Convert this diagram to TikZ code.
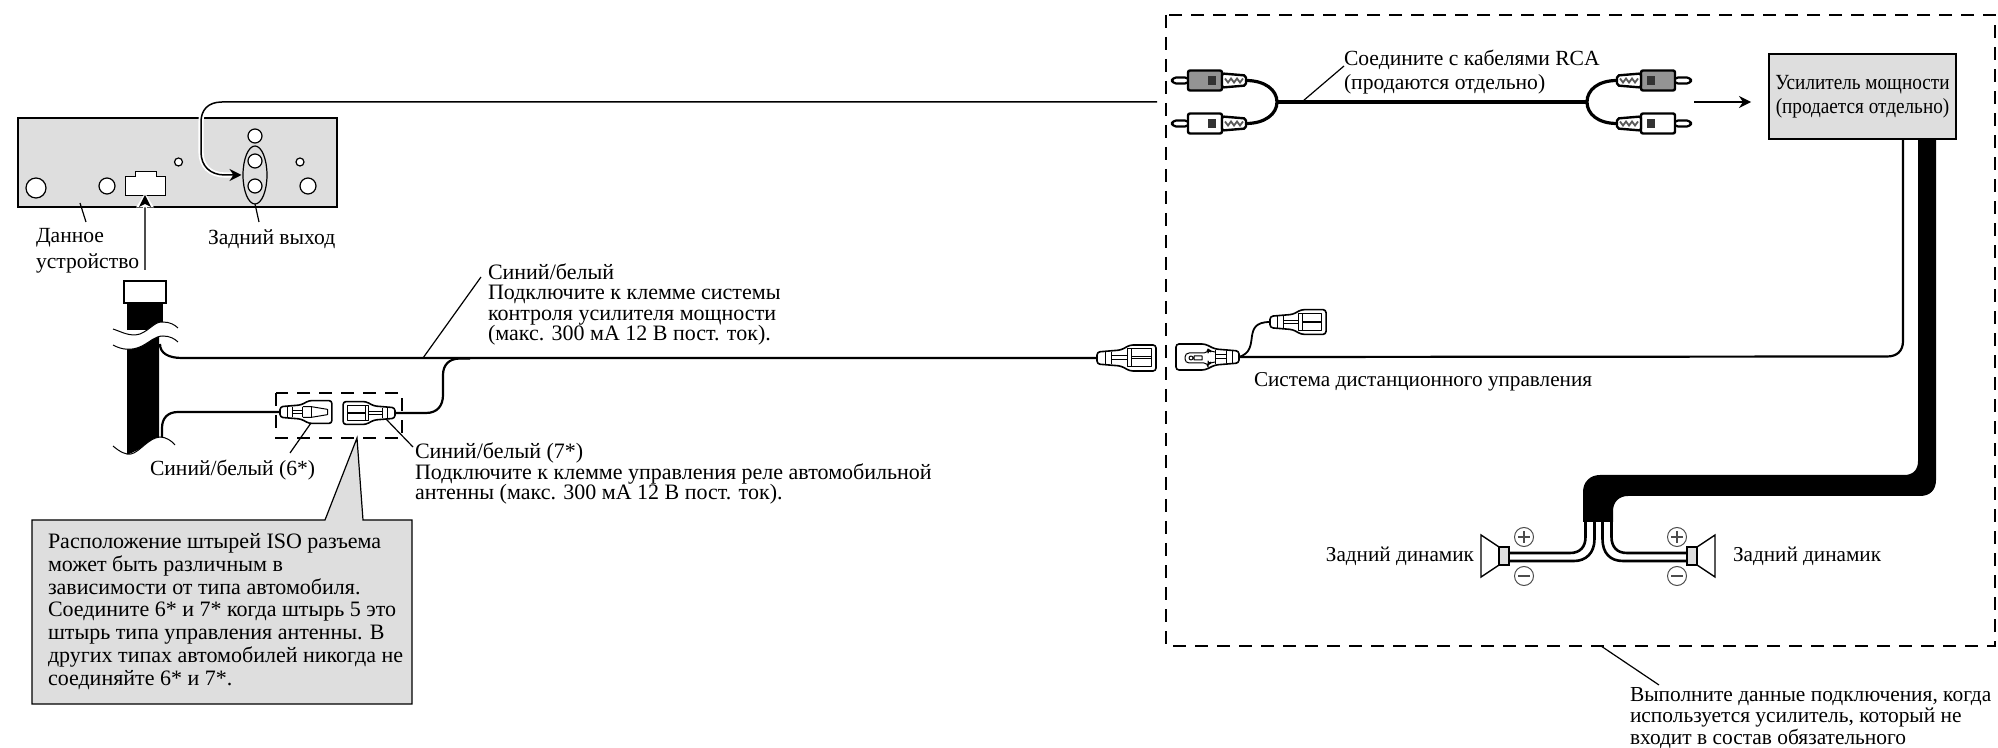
\documentclass[tikz,border=0pt]{standalone}
\usepackage{fontspec}
\setmainfont{Liberation Serif}
\newfontfamily\ampfont[FakeStretch=0.89]{Liberation Serif}
\usetikzlibrary{arrows.meta}
\definecolor{panel}{gray}{0.87}
\tikzset{
  x=0.5pt,y=-0.5pt,
  txt/.style={inner sep=0pt,outer sep=0pt,align=left,anchor=west,font=\fontsize{10.8}{10.25}\selectfont},
  thinline/.style={line width=0.6pt,black},
  wire/.style={line width=1.1pt,black},
  speakerwire/.style={line width=1.3pt,black},
  fatwire/.style={line width=2pt,black},
  connline/.style={line width=0.8pt,black,line join=round},
  halo/.style={white,line width=2.6pt},
  sym/.style={line width=0.5pt,black!70},
  dashframe/.style={line width=.65pt,dash pattern=on 6.5pt off 4.5pt},
  pics/femaleconn/.style={code={
    \draw[connline,fill=white,rounded corners=1.5pt] (0,-6)--(0,6)--(12,7)--(24,8)--(33,13)--(59,13)--(59,-13)--(33,-13)--(24,-8)--(12,-7)--cycle;
    \draw[connline,line width=.5pt] (8,-6)--(8,6) (14,-6)--(14,6) (14,-2)--(30,-2) (14,2)--(30,2) (30,-6)--(30,6);
    \draw[connline,line width=.5pt,fill=white] (30,-9)--(54,-9)--(54,9)--(30,9)--cycle;
    \draw[connline,line width=.5pt] (34,-1)--(54,-1) (34,1)--(54,1) (34,-9)--(34,9);
  }},
  pics/maleconn/.style={code={
    \draw[connline,fill=white,rounded corners=1.5pt] (0,-6)--(0,6)--(12,7)--(24,8)--(33,13)--(59,13)--(59,-13)--(33,-13)--(24,-8)--(12,-7)--cycle;
    \draw[connline,line width=.5pt] (8,-6)--(8,6) (14,-6)--(14,6) (14,-2)--(26,-2) (14,2)--(26,2) (26,-6)--(26,6) (36,-6)--(36,6);
    \draw[connline,line width=.5pt] (26,-6)--(36,-6)--(54,-3)--(54,3)--(36,6)--(26,6);
  }},
  pics/bladeconn/.style={code={
    \draw[connline,fill=white,rounded corners=1.5pt] (0,-6)--(0,6)--(12,7)--(24,8)--(34,13)--(63,13)--(63,-13)--(34,-13)--(24,-8)--(12,-7)--cycle;
    \draw[connline,line width=.5pt] (7,-6)--(7,6) (13,-6)--(13,6) (13,-2)--(24,-2) (13,2)--(24,2) (24,-7)--(24,7);
    \draw[connline,line width=.5pt,rounded corners=2pt] (24,-5)--(28,-5)--(31,-8)--(31,-4)--(54,-4)--(54,6)--(31,6)--(31,8)--(28,5)--(24,5);
    \draw[connline,line width=.5pt] (37,-1) rectangle (45,3) (48,1) circle (2);
  }},
  pics/rcaplug/.style={code={
    \draw[connline,line width=1.1pt,fill=white,rounded corners=2pt] (0,-3)--(17,-3)--(17,3)--(0,3)--cycle;
    \fill[#1,draw=black,line width=1.2pt,rounded corners=1pt] (16,-10)--(50,-10)--(50,10)--(16,10)--cycle;
    \fill[black!80] (36,-4.5) rectangle (44,4.5);
    \draw[line width=1.2pt,fill=white,rounded corners=1pt] (50,-7)--(74,-5)--(74,5)--(50,7)--cycle;
    \draw[line width=.9pt,black!65] (53,-2)--(56,2)--(59,-2)--(62,2)--(65,-2)--(68,2)--(71,-2);
  }}
}
\begin{document}
\begin{tikzpicture}
\useasboundingbox (0,0) rectangle (1998,748);

% ---- head unit
\node[draw=black,line width=1.4pt,fill=panel,inner sep=0pt,minimum width=159.5pt,minimum height=44.5pt] (hu) at (177.5,162.5) {};
\foreach \n/\p/\q/\r in {a/255/136/7,b/255/161/7,c/255/186/7,d/178.5/162/4,e/300/162/4,f/36/188/10,g/107/186/8,h/308/186/8}{
  \draw[line width=.6pt,fill=white] (\p,\q) circle (\r);
  \coordinate (hole\n) at (\p,\q);
}
\draw[line width=.6pt] (255,175) ellipse (12 and 29);
\draw[line width=.5pt,fill=white] (125,177)--(135,177)--(135,172)--(156,172)--(156,177)--(165,177)--(165,196)--(125,196)--cycle;

% ---- labels on the left
\node[txt,font=\fontsize{10.8}{13}\selectfont] (lhu) at (36,251) {Данное\\устройство};
\node[txt] (lrear) at (208,239.5) {Задний выход};
\coordinate (huleadA) at (80,203); \coordinate (huleadB) at (86,222);
\draw[thinline] (huleadA)--(huleadB);
\coordinate (reA) at (255,204); \coordinate (reB) at (259,222);
\draw[thinline] (reA)--(reB);

% ---- dashed box
\coordinate (dTL) at (1166,15); \coordinate (dBR) at (1995,646);
\draw[dashframe] (dTL) rectangle (dBR);

% ---- long arrow into rear output
\coordinate (longA) at (1157,102);
\coordinate (longB) at (241.5,175);
\draw[halo] (222,102) .. controls (208,102) and (201,110) .. (201,122) -- (201,152) .. controls (201,166) and (210,175) .. (225,175) -- (232,175);
\draw[thinline,line width=.75pt,-{Stealth[length=6pt,width=6pt]}] (longA) -- (222,102) .. controls (208,102) and (201,110) .. (201,122) -- (201,152) .. controls (201,166) and (210,175) .. (225,175) -- (longB);

% ---- arrow up to connector
\coordinate (upA) at (145,270); \coordinate (upB) at (145,195);
\draw[white,line width=2.4pt] (145,208)--(145,198);
\draw[thinline,black!70,line width=.8pt] (upA)--(145,205);
\fill[white] (136,207.5)--(145,193)--(154,207.5)--cycle;
\fill[black] (139,207)--(145,195)--(151,207)--(145,204)--cycle;

% ---- harness tube
\fill[black] (127,303) rectangle (163,330);
\fill[black] (127,340) -- (159,334) -- (159,440) -- (127,455) -- cycle;
\fill[white] (113,329) .. controls (122,332) and (130,337) .. (140,334) .. controls (150,330) and (155,321) .. (163,322) .. controls (170,322) and (175,325) .. (178,328) -- (178,342) .. controls (175,339) and (170,336) .. (163,336) .. controls (155,336) and (150,342) .. (142,346) .. controls (132,351) and (122,350) .. (113,345) -- cycle;
\draw[thinline,line width=.5pt] (113,329) .. controls (122,332) and (130,337) .. (140,334) .. controls (150,330) and (155,321) .. (163,322) .. controls (170,322) and (175,325) .. (178,328);
\draw[thinline,line width=.5pt] (113,345) .. controls (122,350) and (132,351) .. (142,346) .. controls (150,342) and (155,336) .. (163,336) .. controls (170,336) and (175,339) .. (178,342);
\fill[white] (113,446) .. controls (120,452) and (126,455) .. (131,454) .. controls (140,452) and (148,438) .. (160,437) .. controls (166,437) and (172,441) .. (175,445) -- (175,470) -- (113,470) -- cycle;
\draw[thinline,line width=.5pt] (113,446) .. controls (120,452) and (126,455) .. (131,454) .. controls (140,452) and (148,438) .. (160,437) .. controls (166,437) and (172,441) .. (175,445);
\node[draw=black,line width=.8pt,fill=white,inner sep=0pt,minimum width=21pt,minimum height=11pt] (plughead) at (145,292) {};

% ---- harness wires
\coordinate (wA) at (160,344);
\coordinate (connLm) at (1097,358);
\draw[wire] (wA) .. controls (160,353) and (168,358) .. (182,358) -- (connLm);
\coordinate (wB) at (162,437);
\coordinate (m6) at (280,412);
\draw[wire] (wB) -- (162,428) .. controls (162,418) and (168,412) .. (178,412) -- (m6);
\coordinate (f7) at (395,413);
\coordinate (wC) at (470,358.5);
\draw[wire] (f7) -- (426,413) .. controls (437,413) and (443,406) .. (443,395) -- (443,375) .. controls (443,365) and (449,358.5) .. (460,358.5) -- (wC);

% ---- ISO connectors
\pic[scale=.88] at (m6) {maleconn};
\pic[scale=.88,xscale=-1] at (f7) {femaleconn};
\coordinate (isoTL) at (276,393); \coordinate (isoBR) at (402,438);
\draw[dashframe] (isoTL) rectangle (isoBR);

% ---- callout
\coordinate (callApex) at (357,438);
\draw[line width=.6pt,fill=panel] (32,520) -- (325,520) -- (callApex) -- (363,520) -- (412,520) -- (412,704) -- (32,704) -- cycle;
\node[txt,font=\fontsize{11}{11.35}\selectfont] (calltext) at (48,611.5) {Расположение штырей ISO разъема\\может быть различным в\\зависимости от типа автомобиля.\\Соедините 6* и 7* когда штырь 5 это\\штырь типа управления антенны. В\\других типах автомобилей никогда не\\соединяйте 6* и 7*.};

% ---- middle labels
\node[txt,font=\fontsize{11}{10.25}\selectfont] (lbw) at (488,304.5) {Синий/белый\\Подключите к клемме системы\\контроля усилителя мощности\\(макс. 300 мА 12 В пост. ток).};
\coordinate (bwA) at (423,358); \coordinate (bwB) at (481,277);
\draw[thinline] (bwA)--(bwB);
\node[txt] (l6) at (150,470.5) {Синий/белый (6*)};
\coordinate (l6A) at (311,423); \coordinate (l6B) at (290,453);
\draw[thinline] (l6A)--(l6B);
\node[txt,font=\fontsize{11}{10.25}\selectfont] (l7) at (415,473.5) {Синий/белый (7*)\\Подключите к клемме управления реле автомобильной\\антенны (макс. 300 мА 12 В пост. ток).};
\coordinate (l7A) at (386,419); \coordinate (l7B) at (413,447);
\draw[thinline] (l7A)--(l7B);

% ---- remote connection
\pic at (connLm) {femaleconn};
\coordinate (conR) at (1239,357);
\coordinate (conU) at (1270,322);
\draw[wire] (1903,139) -- (1903,341) .. controls (1903,351) and (1897,356.5) .. (1887,356.5) -- (conR);
\draw[wire,line width=.9pt] (conR) .. controls (1262,350) and (1240,322) .. (conU);
\pic[xscale=-1] at (conR) {bladeconn};
\pic[scale=.95] at (conU) {femaleconn};
\node[txt,font=\fontsize{10.6}{10.25}\selectfont] (lrem) at (1254,381.5) {Система дистанционного управления};

% ---- RCA
\coordinate (rcaJL) at (1277,102); \coordinate (rcaJR) at (1587,102);
\draw[fatwire] (rcaJL)--(rcaJR);
\coordinate (pUL) at (1246,80.5); \coordinate (pLL) at (1246,123.5);
\coordinate (pUR) at (1617,80.5); \coordinate (pLR) at (1617,123.5);
\draw[fatwire,line width=1.6pt] (pUL) .. controls (1265,80.5) and (1277,90) .. (rcaJL) .. controls (1277,114) and (1265,123.5) .. (pLL);
\draw[fatwire,line width=1.6pt] (pUR) .. controls (1598,80.5) and (1587,90) .. (rcaJR) .. controls (1587,114) and (1598,123.5) .. (pLR);
\pic at (1172,80.5) {rcaplug=black!42};
\pic at (1172,123.5) {rcaplug=white};
\pic[xscale=-1] at (1691,80.5) {rcaplug=black!42};
\pic[xscale=-1] at (1691,123.5) {rcaplug=white};
\node[txt,font=\fontsize{10.8}{12}\selectfont] (lrca) at (1344,72.5) {Соедините с кабелями RCA\\(продаются отдельно)};
\coordinate (rcaLA) at (1303,101); \coordinate (rcaLB) at (1344,66);
\draw[thinline] (rcaLA)--(rcaLB);

% ---- amplifier
\node[draw=black,line width=1.2pt,fill=panel,inner sep=0pt,minimum width=93.5pt,minimum height=42.5pt,align=center,font=\ampfont\fontsize{10.8}{12.2}\selectfont] (amp) at (1862.5,96.5) {Усилитель мощности\\(продается отдельно)};
\coordinate (ampIn) at (1694,102); \coordinate (ampInB) at (1751,102);
\draw[thinline,line width=.7pt,-{Stealth[length=6pt,width=6pt]}] (ampIn)--(ampInB);

% ---- fat speaker cable
\fill[black] (1918,139)--(1936,139)--(1936,480) .. controls (1936,490) and (1930,496) .. (1920,496) -- (1628,496) .. controls (1619,496) and (1613,502) .. (1613,511) -- (1613,522) -- (1583,522) -- (1583,492) .. controls (1583,482) and (1590,475) .. (1600,475) -- (1904,475) .. controls (1913,475) and (1918,470) .. (1918,461) -- cycle;

% ---- speaker wires
\coordinate (sL1) at (1585.5,520); \coordinate (sL2) at (1594.5,520);
\coordinate (sR1) at (1602.5,520); \coordinate (sR2) at (1611.5,520);
\coordinate (spL1) at (1509,553); \coordinate (spL2) at (1509,561);
\coordinate (spR1) at (1687,553); \coordinate (spR2) at (1687,561);
\draw[speakerwire] (sL1) -- (1585.5,537) .. controls (1585.5,547) and (1580,553) .. (1570,553) -- (spL1);
\draw[speakerwire] (sL2) -- (1594.5,539) .. controls (1594.5,553) and (1586,561) .. (1574,561) -- (spL2);
\draw[speakerwire] (sR1) -- (1602.5,539) .. controls (1602.5,553) and (1610,561) .. (1623,561) -- (spR2);
\draw[speakerwire] (sR2) -- (1611.5,537) .. controls (1611.5,547) and (1617,553) .. (1627,553) -- (spR1);

% ---- speakers
\draw[line width=.7pt,fill=white,line join=miter] (1499,547)--(1481,535)--(1481,577)--(1499,565)--cycle;
\draw[line width=1pt,fill=panel] (1499,547) rectangle (1509,565);
\draw[line width=.7pt,fill=white,line join=miter] (1697,547)--(1715,535)--(1715,577)--(1697,565)--cycle;
\draw[line width=1pt,fill=panel] (1687,547) rectangle (1697,565);
\foreach \cx in {1524,1677}{
  \draw[sym] (\cx,537) circle (9.5) (\cx,576) circle (9.5);
  \draw[sym,line width=.8pt] (\cx-6,537)--(\cx+6,537) (\cx,531)--(\cx,543) (\cx-6,576)--(\cx+6,576);
}
\node[txt,anchor=east,font=\fontsize{10.6}{10.25}\selectfont] (lspL) at (1474,556.5) {Задний динамик};
\node[txt,font=\fontsize{10.6}{10.25}\selectfont] (lspR) at (1733,556.5) {Задний динамик};

% ---- bottom note
\coordinate (noteA) at (1601,646); \coordinate (noteB) at (1659,685);
\draw[thinline] (noteA)--(noteB);
\node[txt,font=\fontsize{10.7}{10.9}\selectfont] (note) at (1630,718) {Выполните данные подключения, когда\\используется усилитель, который не\\входит в состав обязательного};
\end{tikzpicture}
\end{document}
